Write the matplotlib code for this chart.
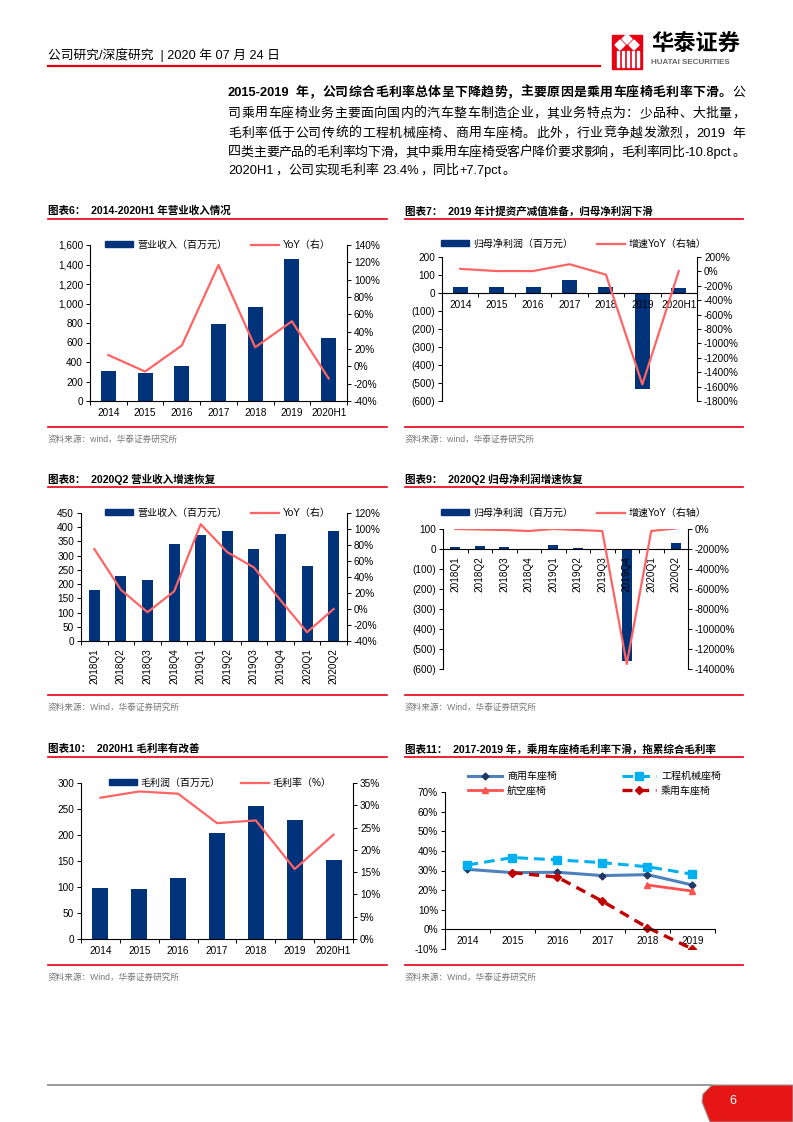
import re
import numpy as np
import matplotlib.pyplot as plt
from matplotlib.patches import Rectangle, Polygon
from matplotlib.lines import Line2D
from matplotlib.ticker import FuncFormatter, FixedLocator

plt.rcParams['font.family'] = ['Liberation Sans', 'Noto Sans CJK SC', 'DejaVu Sans']
plt.rcParams['axes.unicode_minus'] = False

#DATA
years = ['2014', '2015', '2016', '2017', '2018', '2019', '2020H1']
revenue = [310, 290, 360, 785, 960, 1455, 645]
revenue_yoy = [13, -6, 24, 117, 22, 52, -14]

net_profit = [32, 32, 35, 70, 35, -535, 30]
net_profit_yoy = [35, 5, 5, 100, -45, -1570, 5]

quarters = ['2018Q1', '2018Q2', '2018Q3', '2018Q4', '2019Q1', '2019Q2',
            '2019Q3', '2019Q4', '2020Q1', '2020Q2']
q_revenue = [180, 227, 214, 340, 372, 385, 325, 377, 265, 385]
q_revenue_yoy = [75, 24, -4, 22, 106, 71, 52, 11, -29, 0]

q_profit = [10, 16, 10, -3, 20, 7, -5, -560, -2, 28]
q_profit_yoy = [0, -50, -100, -200, 0, -100, -200, -13500, -200, 50]

gross_profit = [98, 96, 117, 204, 255, 229, 151]
gross_margin = [31.7, 33.1, 32.6, 26.0, 26.6, 15.7, 23.4]

seg_years = ['2014', '2015', '2016', '2017', '2018', '2019']
seg_commercial = [30.6, 28.9, 29.1, 27.4, 27.9, 22.6]
seg_machinery = [32.8, 36.6, 35.4, 34.0, 31.9, 28.1]
seg_aviation = [np.nan, np.nan, np.nan, np.nan, 22.6, 19.5]
seg_passenger = [np.nan, 28.9, 26.6, 14.3, 0.9, -10.0]
###

#STYLE
W, H = 793, 1122
NAVY = '#00337A'
LINE = '#FF6464'
RED = '#E60012'
FS = 7.2

fig = plt.figure(figsize=(W / 100, H / 100), dpi=100)
renderer = fig.canvas.get_renderer()


def box(x0, y0, x1, y1):
    return [x0 / W, 1 - y1 / H, (x1 - x0) / W, (y1 - y0) / H]


def txt(x, y, s, **kw):
    kw.setdefault('va', 'center')
    return fig.text(x / W, 1 - y / H, s, **kw)


def hline(x0, x1, y, color=RED, lw=1.2):
    fig.add_artist(Line2D([x0 / W, x1 / W], [1 - y / H, 1 - y / H],
                          color=color, lw=lw, transform=fig.transFigure))


# justified paragraph line: CJK chars take one em each, latin runs are measured
def jline(segments, x0, x1, y, fs, justify=True):
    em = fs * 100 / 72
    yb = y + 0.38 * em
    items = []
    for s, wt in segments:
        for tok in re.findall(r'[A-Za-z0-9.%+\-]+|.', s):
            items.append((tok, wt))
    objs = []
    total = 0
    for tok, wt in items:
        t = txt(x0, yb, tok, fontsize=fs, fontweight=wt, ha='left', va='baseline')
        if tok == ' ':
            w = 0.3 * em
        elif ord(tok[0]) > 0x2E80:
            w = em
        else:
            w = t.get_window_extent(renderer).width + 0.12 * em
        objs.append((t, w))
        total += w
    gap = (x1 - x0 - total) / (len(objs) - 1) if justify else 0
    xx = x0
    for t, w in objs:
        t.set_x(xx / W)
        xx += w + gap


def panel(x0, x1, ytitle, title, source, ysrc):
    txt(x0, ytitle, title, fontsize=7.6, fontweight='bold')
    hline(x0, x1, ytitle + 7.5)
    hline(x0, x1, ysrc)
    txt(x0, ysrc + 12, source, fontsize=6.2, color='#777777')


def style_axes(ax, n, ax2=None, rot=0):
    ax.spines['top'].set_visible(False)
    ax.spines['right'].set_visible(False)
    ax.set_xlim(-0.5, n - 0.5)
    ax.xaxis.set_minor_locator(FixedLocator(np.arange(n + 1) - 0.5))
    ax.tick_params(axis='x', which='major', length=0, labelsize=FS, pad=5,
                   labelrotation=rot)
    ax.tick_params(axis='x', which='minor', length=3, direction='out', width=0.7)
    ax.tick_params(axis='y', length=3, direction='out', labelsize=FS, width=0.7, pad=2)
    for s in ax.spines.values():
        s.set_linewidth(0.8)
    if ax2 is not None:
        for k in ['top', 'left', 'bottom']:
            ax2.spines[k].set_visible(False)
        ax2.spines['right'].set_linewidth(0.8)
        ax2.tick_params(axis='y', length=3, direction='out', labelsize=FS, width=0.7, pad=2)


def legend2(ax, handles, labels, cx, cy, gap=2.4):
    ax.legend(handles, labels, loc='center', ncol=2, frameon=False,
              bbox_to_anchor=(cx / W, 1 - cy / H), bbox_transform=fig.transFigure,
              fontsize=FS, handlelength=2.8, handleheight=0.55, handletextpad=0.4,
              columnspacing=gap, borderpad=0, borderaxespad=0)


pct = FuncFormatter(lambda v, p: f'{v:.0f}%')
paren = FuncFormatter(lambda v, p: f'({-v:.0f})' if v < 0 else f'{v:.0f}')
comma = FuncFormatter(lambda v, p: f'{v:,.0f}')

bar_h = Rectangle((0, 0), 1, 1, color=NAVY)
line_h = Line2D([], [], color=LINE, lw=1.6)

#HEADER
txt(48, 55, '公司研究/深度研究  | 2020 年 07 月 24 日', fontsize=9.2)
hline(48, 600, 66, lw=1.6)
fig.add_artist(Rectangle((612 / W, 1 - 69 / H), 30 / W, 34 / H, color=RED,
                         transform=fig.transFigure))
for cx, cy in [(620, 45), (634, 45), (627, 39)]:
    fig.add_artist(Polygon([((cx - 5) / W, 1 - cy / H), (cx / W, 1 - (cy - 5) / H),
                            ((cx + 5) / W, 1 - cy / H), (cx / W, 1 - (cy + 5) / H)],
                           color='white', transform=fig.transFigure))
for xx in [617, 622, 627, 632, 637]:
    fig.add_artist(Rectangle((xx / W, 1 - 67 / H), 1.5 / W, 16 / H, color='white',
                             transform=fig.transFigure))
txt(651, 45, '华泰证券', fontsize=16, fontweight='bold')
txt(651, 62, 'HUATAI SECURITIES', fontsize=5.8, fontweight='bold', color='#666666')

#PARAGRAPH
PFS = 9.3
jline([('2015-2019 年，公司综合毛利率总体呈下降趋势，主要原因是乘用车座椅毛利率下滑。', 'bold'),
       ('公', 'normal')], 228, 745, 91, PFS)
jline([('司乘用车座椅业务主要面向国内的汽车整车制造企业，其业务特点为：少品种、大批量，', 'normal')],
      228, 745, 112, PFS)
jline([('毛利率低于公司传统的工程机械座椅、商用车座椅。此外，行业竞争越发激烈，2019 年', 'normal')],
      228, 745, 132, PFS)
jline([('四类主要产品的毛利率均下滑，其中乘用车座椅受客户降价要求影响，毛利率同比-10.8pct。', 'normal')],
      228, 745, 151, PFS)
jline([('2020H1，公司实现毛利率 23.4%，同比+7.7pct。', 'normal')], 228, 745, 169, PFS,
      justify=False)

#CHART 6
panel(48, 387, 211, '图表6：  2014-2020H1 年营业收入情况', '资料来源：wind，华泰证券研究所', 427)
ax = fig.add_axes(box(90, 245, 347, 401))
x = np.arange(len(years))
ax.bar(x, revenue, width=0.41, color=NAVY)
ax.set_ylim(0, 1600)
ax.set_yticks(np.arange(0, 1601, 200))
ax.yaxis.set_major_formatter(comma)
ax.set_xticks(x, years)
ax2 = ax.twinx()
ax2.plot(x, revenue_yoy, color=LINE, lw=1.6)
ax2.set_ylim(-40, 140)
ax2.set_yticks(np.arange(-40, 141, 20))
ax2.yaxis.set_major_formatter(pct)
style_axes(ax, len(years), ax2)
legend2(ax2, [bar_h, line_h], ['营业收入（百万元）', 'YoY（右）'], 218, 245)

#CHART 7
panel(405, 743, 211, '图表7：  2019 年计提资产减值准备，归母净利润下滑', '资料来源：wind，华泰证券研究所', 427)
ax = fig.add_axes(box(442, 257, 697, 401))
ax.bar(x, net_profit, width=0.41, color=NAVY)
ax.set_ylim(-600, 200)
ax.set_yticks(np.arange(-600, 201, 100))
ax.yaxis.set_major_formatter(paren)
ax.set_xticks(x, years)
ax.spines['bottom'].set_position(('data', 0))
ax2 = ax.twinx()
ax2.plot(x, net_profit_yoy, color=LINE, lw=1.6)
ax2.set_ylim(-1800, 200)
ax2.set_yticks(np.arange(-1800, 201, 200))
ax2.yaxis.set_major_formatter(pct)
style_axes(ax, len(years), ax2)
legend2(ax2, [bar_h, line_h], ['归母净利润（百万元）', '增速YoY（右轴）'], 574, 244)

#CHART 8
panel(48, 387, 479, '图表8：  2020Q2 营业收入增速恢复', '资料来源：Wind，华泰证券研究所', 695)
ax = fig.add_axes(box(81, 513, 347, 641))
xq = np.arange(len(quarters))
ax.bar(xq, q_revenue, width=0.42, color=NAVY)
ax.set_ylim(0, 450)
ax.set_yticks(np.arange(0, 451, 50))
ax.set_xticks(xq, quarters)
ax2 = ax.twinx()
ax2.plot(xq, q_revenue_yoy, color=LINE, lw=1.6)
ax2.set_ylim(-40, 120)
ax2.set_yticks(np.arange(-40, 121, 20))
ax2.yaxis.set_major_formatter(pct)
style_axes(ax, len(quarters), ax2, rot=90)
legend2(ax2, [bar_h, line_h], ['营业收入（百万元）', 'YoY（右）'], 218, 513)

#CHART 9
panel(405, 743, 479, '图表9：  2020Q2 归母净利润增速恢复', '资料来源：Wind，华泰证券研究所', 695)
ax = fig.add_axes(box(443, 529, 688, 669))
ax.bar(xq, q_profit, width=0.42, color=NAVY)
ax.set_ylim(-600, 100)
ax.set_yticks(np.arange(-600, 101, 100))
ax.yaxis.set_major_formatter(paren)
ax.set_xticks(xq, quarters)
ax.spines['bottom'].set_position(('data', 0))
ax2 = ax.twinx()
ax2.plot(xq, q_profit_yoy, color=LINE, lw=1.6)
ax2.set_ylim(-14000, 0)
ax2.set_yticks(np.arange(-14000, 1, 2000))
ax2.yaxis.set_major_formatter(pct)
style_axes(ax, len(quarters), ax2, rot=90)
legend2(ax2, [bar_h, line_h], ['归母净利润（百万元）', '增速YoY（右轴）'], 574, 513)

#CHART 10
panel(48, 387, 749, '图表10：  2020H1 毛利率有改善', '资料来源：Wind，华泰证券研究所', 965)
ax = fig.add_axes(box(81, 783, 353, 939))
ax.bar(x, gross_profit, width=0.41, color=NAVY)
ax.set_ylim(0, 300)
ax.set_yticks(np.arange(0, 301, 50))
ax.set_xticks(x, years)
ax2 = ax.twinx()
ax2.plot(x, gross_margin, color=LINE, lw=1.6)
ax2.set_ylim(0, 35)
ax2.set_yticks(np.arange(0, 36, 5))
ax2.yaxis.set_major_formatter(pct)
style_axes(ax, len(years), ax2)
legend2(ax2, [bar_h, line_h], ['毛利润（百万元）', '毛利率（%）'], 220, 783, gap=2.0)

#CHART 11
panel(405, 743, 749, '图表11：  2017-2019 年，乘用车座椅毛利率下滑，拖累综合毛利率',
      '资料来源：Wind，华泰证券研究所', 965)
ax = fig.add_axes(box(445, 792, 715, 949))
xs = np.arange(len(seg_years))
l1, = ax.plot(xs, seg_commercial, color='#4F81BD', lw=2.2, marker='D', ms=3.5,
              mfc='#1F3864', mec='#1F3864')
l2, = ax.plot(xs, seg_machinery, color='#00B0F0', lw=2.2, ls=(0, (3.5, 2)), marker='s', ms=6)
l3, = ax.plot(xs, seg_aviation, color='#FF5050', lw=2.0, marker='^', ms=5)
l4, = ax.plot(xs, seg_passenger, color='#C00000', lw=2.4, ls=(0, (3, 2)), marker='D', ms=4)
ax.set_ylim(-10, 70)
ax.set_yticks(np.arange(-10, 71, 10))
ax.yaxis.set_major_formatter(pct)
ax.set_xticks(xs, seg_years)
ax.spines['bottom'].set_position(('data', 0))
style_axes(ax, len(seg_years))
ax.legend([l1, l3, l2, l4], ['商用车座椅', '航空座椅', '工程机械座椅', '乘用车座椅'],
          loc='upper left', ncol=2, frameon=False,
          bbox_to_anchor=(468 / W, 1 - 771 / H), bbox_transform=fig.transFigure,
          fontsize=FS, handlelength=3.4, handletextpad=0.5, columnspacing=6.5,
          labelspacing=0.45, borderpad=0, borderaxespad=0)

#FOOTER
hline(48, 712, 1085, color='#999999', lw=1.4)
fig.add_artist(Polygon([(712 / W, 1 - 1085 / H), (1, 1 - 1085 / H), (1, 0),
                        (710 / W, 0), (702 / W, 1 - 1102 / H), (703 / W, 1 - 1094 / H)],
                       closed=True, facecolor='#E61616', edgecolor='#999999', lw=0.8,
                       transform=fig.transFigure))
txt(733, 1101, '6', fontsize=9, color='white', ha='center')

fig.savefig('out.png', dpi=100)
